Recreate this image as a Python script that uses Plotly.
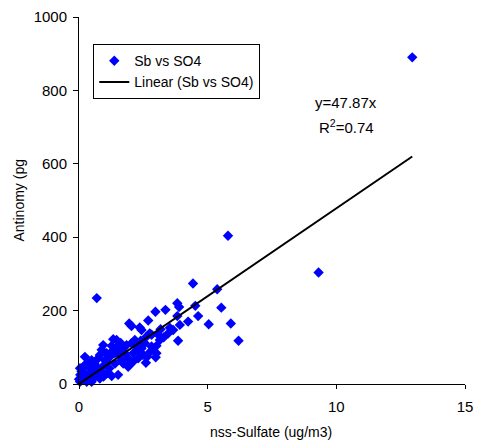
import plotly.graph_objects as go

# nss-Sulfate (ug/m3) and Antimony (pg) pairs
sulfate = [12.95, 9.31, 5.79, 4.43, 5.37, 4.52, 5.53, 4.63, 5.04, 5.90, 6.20, 0.69,
           3.82, 3.89, 3.36, 2.97, 2.69, 3.82, 3.53, 2.36, 2.43, 1.95, 2.04, 3.17,
           3.29, 3.85, 3.01, 2.82, 2.75, 2.62, 2.40, 2.56, 2.30, 2.43, 2.73, 2.65,
           2.60, 2.36, 2.11, 1.91, 1.98, 1.91, 1.52, 1.27, 1.46, 1.33, 1.52, 1.27,
           0.94, 0.88, 0.81, 0.75, 0.23, 0.36, 0.04, 0.10, 0.17, 0.30, 0.43, 0.56,
           0.62, 0.88, 0.68, 0.94, 1.07, 1.20, 1.40, 1.59, 1.72, 1.78, 1.85, 2.04,
           2.17, 1.59, 1.65, 1.40, 1.18, 1.01, 0.49, 0.43, 0.23, 0.10, 0.04, 0.17,
           0.36, 0.49, 0.30, 0.56, 0.75, 0.81, 0.00, 0.23, 1.07, 1.27, 1.46, 2.24,
           2.30, 2.11, 1.72, 2.49, 2.82, 2.88, 3.01, 3.14, 3.08, 3.66, 3.47, 3.92,
           4.24, 2.98, 1.10, 0.60, 0.95, 1.62, 0.15, 0.05]
antimony = [890, 304, 404, 274, 258, 213, 208, 185, 163, 165, 118, 234,
            220, 210, 202, 197, 173, 185, 153, 154, 147, 165, 158, 149,
            127, 118, 104, 134, 138, 129, 118, 111, 93, 97, 85, 74,
            58, 88, 84, 70, 54, 47, 25, 22, 120, 122, 104, 104,
            106, 93, 79, 70, 74, 56, 43, 34, 25, 20, 29, 34,
            20, 34, 47, 49, 61, 74, 84, 93, 97, 84, 106, 111,
            120, 79, 65, 56, 43, 65, 65, 43, 52, 15, 6, 11,
            13, 6, 6, 15, 25, 15, 13, 29, 84, 88, 97, 102,
            70, 61, 56, 79, 102, 93, 84, 120, 134, 147, 138, 161,
            170, 73, 30, 55, 20, 112, 45, 25]

slope = 47.87
r_squared = 0.74
x_ticks = [0, 5, 10, 15]
y_ticks = [0, 200, 400, 600, 800, 1000]

font_family = "Liberation Sans, Arial, sans-serif"

line_x = [0, max(sulfate)]
line_y = [slope * v for v in line_x]

fig = go.Figure()
fig.add_trace(go.Scatter(
    x=sulfate, y=antimony, mode="markers", name="Sb vs SO4",
    marker=dict(symbol="diamond", size=8, color="#0000FF", line=dict(width=0)),
    cliponaxis=False,
))
fig.add_trace(go.Scatter(
    x=line_x, y=line_y, mode="lines", name="Linear (Sb vs SO4)",
    line=dict(color="black", width=2), cliponaxis=False,
))

fig.add_annotation(x=10.39, y=766, xref="x", yref="y", text=f"y={slope}x",
                   showarrow=False, font=dict(size=15, color="black", family=font_family))
fig.add_annotation(x=10.39, y=703, xref="x", yref="y", text=f"R<sup>2</sup>={r_squared}",
                   showarrow=False, font=dict(size=15, color="black", family=font_family))

# axis titles as annotations for exact placement
fig.add_annotation(x=-0.158, y=0.50, xref="paper", yref="paper",
                   text="Antinomy (pg", textangle=-90, showarrow=False,
                   xanchor="center", yanchor="middle",
                   font=dict(size=14, color="black", family=font_family))
fig.add_annotation(x=0.497, y=-0.131, xref="paper", yref="paper",
                   text="nss-Sulfate (ug/m3)", showarrow=False,
                   xanchor="center", yanchor="middle",
                   font=dict(size=14, color="black", family=font_family))

fig.update_layout(
    width=477, height=440,
    margin=dict(l=79, r=12, t=17, b=56),
    paper_bgcolor="white", plot_bgcolor="white",
    font=dict(family=font_family, color="black", size=15),
    showlegend=True,
    legend=dict(x=0.037, y=0.926, xanchor="left", yanchor="top",
                bgcolor="white", bordercolor="black", borderwidth=1,
                font=dict(size=14, family=font_family), tracegroupgap=0,
                itemwidth=30),
    xaxis=dict(range=[0, 15], tickvals=x_ticks, showgrid=False, zeroline=False,
               showline=True, linecolor="black", linewidth=1,
               ticks="outside", ticklen=4, tickcolor="black",
               ticklabelstandoff=5, automargin=False),
    yaxis=dict(range=[0, 1000], tickvals=y_ticks, showgrid=False, zeroline=False,
               showline=True, linecolor="black", linewidth=1,
               ticks="outside", ticklen=5, tickcolor="black",
               ticklabelstandoff=3, automargin=False),
)

# remove the default page margin so the 477x440 figure fills the window exactly
fig.write_html(
    "out.html",
    config={"displayModeBar": False},
    post_script="document.body.style.margin='0';document.body.style.overflow='hidden';",
)
